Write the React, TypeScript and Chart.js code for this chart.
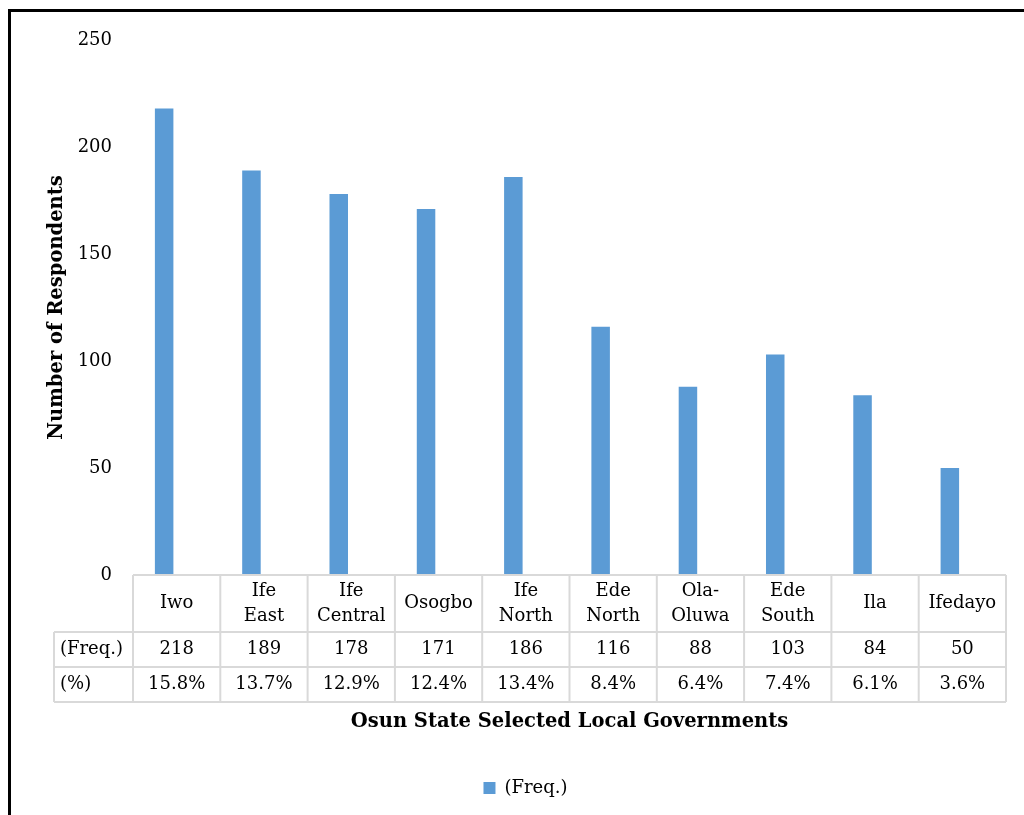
import React, { useEffect, useRef } from "react";
import { Chart, registerables } from "chart.js";

Chart.register(...registerables);

// Local government areas (header row of the data table, split into lines)
const categories: string[][] = [
  ["Iwo"],
  ["Ife", "East"],
  ["Ife", "Central"],
  ["Osogbo"],
  ["Ife", "North"],
  ["Ede", "North"],
  ["Ola-", "Oluwa"],
  ["Ede", "South"],
  ["Ila"],
  ["Ifedayo"],
];

// Number of respondents per local government
const freq: number[] = [218, 189, 178, 171, 186, 116, 88, 103, 84, 50];

// Share of respondents (percent)
const pct: number[] = [15.8, 13.7, 12.9, 12.4, 13.4, 8.4, 6.4, 7.4, 6.1, 3.6];

const seriesNames: string[] = ["(Freq.)", "(%)"];

const yMax = 250;
const yStep = 50;

const FONT = "'DejaVu Serif', serif";
const GRID = "#d9d9d9";

// Draws the data table (category header, frequency row, percent row) under the plot
const dataTablePlugin = {
  id: "dataTable",
  afterDraw(chart: any) {
    const { ctx, chartArea } = chart;
    const xScale = chart.scales.x;
    const n = categories.length;
    const colW = (chartArea.right - chartArea.left) / n;
    const top = chartArea.bottom;
    const headerBottom = top + 57;
    const freqBottom = headerBottom + 35;
    const pctBottom = freqBottom + 35;
    const labelLeft = 54;

    ctx.save();
    ctx.strokeStyle = GRID;
    ctx.lineWidth = 2;
    const line = (x1: number, y1: number, x2: number, y2: number) => {
      ctx.beginPath();
      ctx.moveTo(x1, y1);
      ctx.lineTo(x2, y2);
      ctx.stroke();
    };
    line(chartArea.left, top, chartArea.right, top);
    line(labelLeft, headerBottom, chartArea.right, headerBottom);
    line(labelLeft, freqBottom, chartArea.right, freqBottom);
    line(labelLeft, pctBottom, chartArea.right, pctBottom);
    line(labelLeft, headerBottom, labelLeft, pctBottom);
    for (let i = 0; i <= n; i++) {
      const x = chartArea.left + i * colW;
      line(x, top, x, pctBottom);
    }

    ctx.fillStyle = "#000";
    ctx.font = `18px ${FONT}`;
    ctx.textBaseline = "middle";

    // row labels
    ctx.textAlign = "left";
    ctx.fillText(seriesNames[0], labelLeft + 6, (headerBottom + freqBottom) / 2);
    ctx.fillText(seriesNames[1], labelLeft + 6, (freqBottom + pctBottom) / 2);

    ctx.textAlign = "center";
    const lineGap = 25;
    for (let i = 0; i < n; i++) {
      const cx = xScale.getPixelForValue(i);
      const lines = categories[i];
      const mid = (top + headerBottom) / 2;
      lines.forEach((t, k) => {
        const y = mid + (k - (lines.length - 1) / 2) * lineGap;
        ctx.fillText(t, cx, y);
      });
      ctx.fillText(String(freq[i]), cx, (headerBottom + freqBottom) / 2);
      ctx.fillText(pct[i].toFixed(1) + "%", cx, (freqBottom + pctBottom) / 2);
    }
    ctx.restore();
  },
};

export default function App() {
  const canvasRef = useRef<HTMLCanvasElement | null>(null);

  useEffect(() => {
    if (!canvasRef.current) return;
    const chart = new Chart(canvasRef.current, {
      type: "bar",
      data: {
        labels: categories,
        datasets: [
          {
            label: seriesNames[0],
            data: freq,
            backgroundColor: "#5B9BD5",
            categoryPercentage: 0.573,
            barPercentage: 0.74,
          },
          {
            label: seriesNames[1],
            data: pct.map((p) => p / 100),
            backgroundColor: "#ED7D31",
            categoryPercentage: 0.573,
            barPercentage: 0.74,
          },
        ],
      },
      options: {
        animation: false,
        responsive: false,
        layout: { padding: { top: 40, left: 45, right: 18, bottom: 8 } },
        scales: {
          x: {
            grid: { display: false, drawTicks: false },
            border: { display: false },
            ticks: { display: false },
            title: {
              display: true,
              text: "Osun State Selected Local Governments",
              color: "#000",
              font: { family: FONT, size: 19.5, weight: "bold" },
              padding: { top: 0, bottom: 35 },
            },
            afterFit: (s: any) => {
              s.height = 194;
            },
          },
          y: {
            min: 0,
            max: yMax,
            grid: { display: false, drawTicks: false },
            border: { display: false },
            ticks: {
              stepSize: yStep,
              padding: 21,
              color: "#000",
              font: { family: FONT, size: 18 },
            },
            title: {
              display: true,
              text: "Number of Respondents",
              color: "#000",
              font: { family: FONT, size: 19.5, weight: "bold" },
              padding: { top: 0, bottom: 0 },
            },
            afterFit: (s: any) => {
              s.width = 88;
            },
          },
        },
        plugins: {
          legend: {
            position: "bottom",
            labels: {
              boxWidth: 12,
              boxHeight: 12,
              padding: 10,
              color: "#000",
              font: { family: FONT, size: 18 },
              filter: (item: any) => item.datasetIndex === 0,
            },
          },
          tooltip: { enabled: false },
        },
      },
      plugins: [dataTablePlugin],
    } as any);
    return () => chart.destroy();
  }, []);

  return (
    <div
      style={{
        position: "fixed",
        left: 0,
        top: 0,
        width: 1024,
        height: 815,
        overflow: "hidden",
        background: "#fff",
      }}
    >
      <canvas
        ref={canvasRef}
        width={1024}
        height={815}
        style={{ position: "absolute", left: 0, top: 0, width: 1024, height: 815 }}
      />
      <div
        style={{
          position: "absolute",
          left: 8,
          top: 9,
          width: 1100,
          height: 900,
          borderTop: "3px solid #000",
          borderLeft: "3px solid #000",
          pointerEvents: "none",
        }}
      />
    </div>
  );
}
